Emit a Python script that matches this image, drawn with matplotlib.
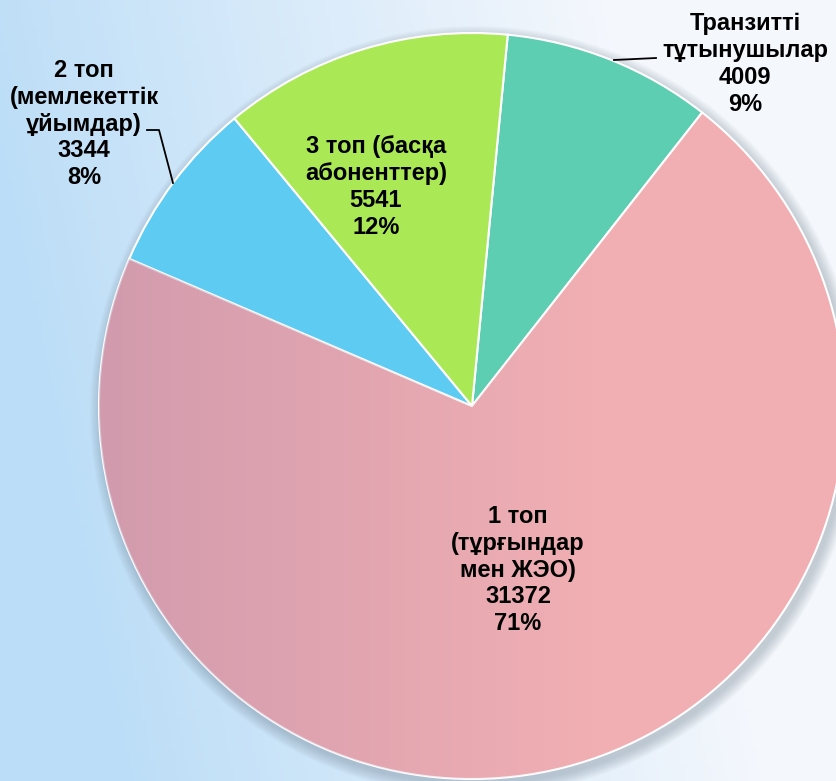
import matplotlib
matplotlib.use("Agg")
import matplotlib.pyplot as plt
import numpy as np
from matplotlib.patches import Circle

# data (clockwise from the top)
labels = ["Транзитті\nтұтынушылар", "1 топ\n(тұрғындар\nмен ЖЭО)", "2 топ\n(мемлекеттік\nұйымдар)", "3 топ (басқа\nабоненттер)"]
values = [4009, 31372, 3344, 5541]
percents = ["9%", "71%", "8%", "12%"]
colors = ["#5DCEB1", "#F1AFB3", "#5DCBF2", "#AAE955"]

W, H = 836, 781
fig = plt.figure(figsize=(W / 100, H / 100), dpi=100)

# background gradient
bg = fig.add_axes([0, 0, 1, 1], zorder=0)
xx = np.linspace(0, 1, 200)
yy = np.linspace(0, 1, 200)
X, Y = np.meshgrid(xx, yy)
t = np.clip(X * 1.3 - 0.25 * Y + 0.05, 0, 1)
c0 = np.array([0.74, 0.87, 0.97])
c1 = np.array([0.96, 0.97, 0.99])
img = c0[None, None, :] * (1 - t[..., None]) + c1[None, None, :] * t[..., None]
bg.imshow(img, extent=[0, 1, 0, 1], aspect="auto", origin="upper")
bg.axis("off")

ax = fig.add_axes([0, 0, 1, 1], zorder=1)
ax.patch.set_alpha(0)

cx, cy, r = 472, H - 406, 373

# soft shadow
for k in range(12):
    ax.add_patch(Circle((cx + 3, cy - 5), r + 12 - k, color="#6a7a8a", alpha=0.03, lw=0))

wedges, _ = ax.pie(values, colors=colors, startangle=84.5, counterclock=False,
                   center=(cx, cy), radius=r, frame=True,
                   wedgeprops=dict(edgecolor="white", linewidth=1.5))
ax.set_xlim(0, W)
ax.set_ylim(0, H)
ax.axis("off")

# darker shading on the left of the big slice
gx = np.linspace(0, 1, 300)
gy = np.linspace(0, 1, 300)
GX, GY = np.meshgrid(gx, gy)
s = np.clip(1 - GX * 1.5, 0, 1)
shade = np.zeros((300, 300, 4))
shade[..., 0] = 0.70
shade[..., 1] = 0.53
shade[..., 2] = 0.66
shade[..., 3] = 0.5 * s
im = ax.imshow(shade, extent=[cx - r, cx + r, cy - r, cy + r], zorder=2, aspect="auto")
im.set_clip_path(wedges[1])

fp = dict(fontsize=17, fontweight="bold", family=["Liberation Sans", "DejaVu Sans"],
          ha="center", va="center", linespacing=1.22, zorder=5)

texts = [l + "\n" + str(v) + "\n" + p for l, v, p in zip(labels, values, percents)]
ax.text(745, H - 64, texts[0], **fp)
ax.text(518, H - 570, texts[1], **fp)
ax.text(84, H - 124, texts[2], **fp)
ax.text(376, H - 187, texts[3], **fp)

# leader lines
ax.plot([147, 159, 173], [H - 130, H - 130, H - 183], color="black", lw=1.3, zorder=5)
ax.plot([614, 656], [H - 60, H - 58], color="black", lw=1.3, zorder=5)

fig.savefig("out.png", dpi=100)
